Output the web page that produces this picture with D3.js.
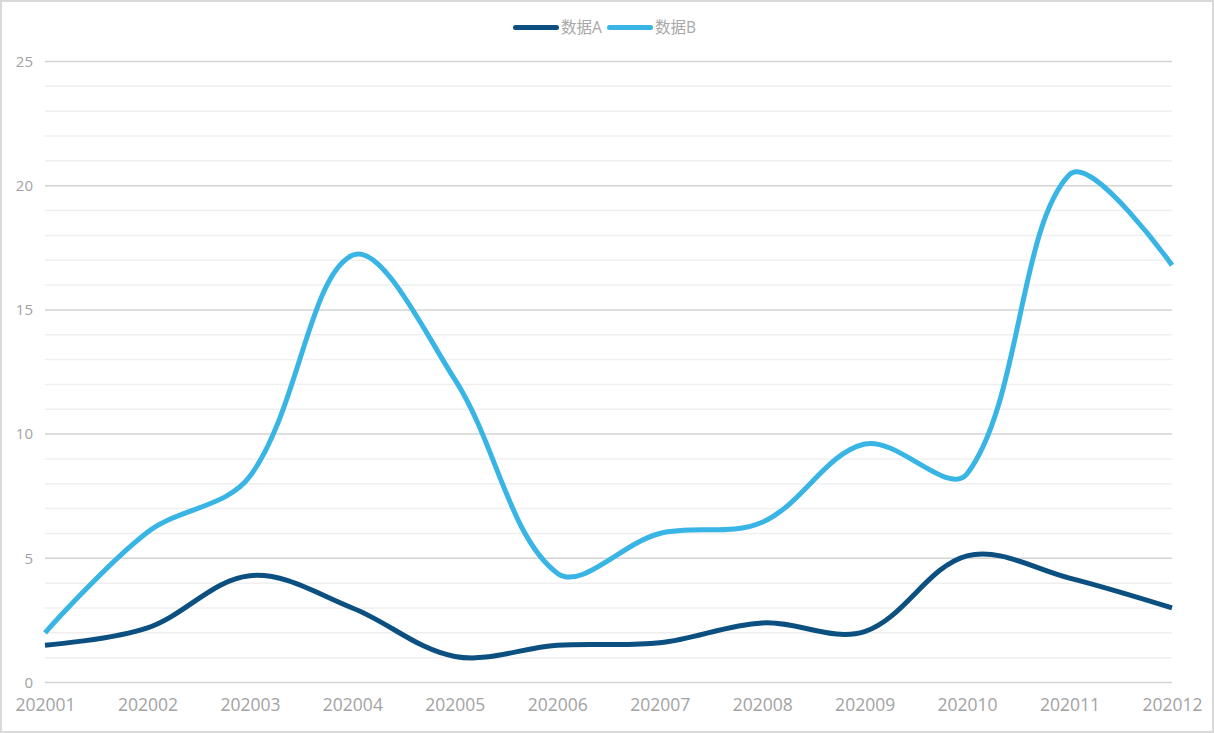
<!DOCTYPE html>
<html>
<head>
<meta charset="utf-8">
<script src="https://cdn.jsdelivr.net/npm/d3@7/dist/d3.min.js"></script>
<style>
  html, body { margin: 0; padding: 0; background: #fff; }
  svg { display: block; }
</style>
</head>
<body>
<svg id="chart" width="1214" height="733"></svg>
<script>
const categories = ["202001","202002","202003","202004","202005","202006","202007","202008","202009","202010","202011","202012"];
const seriesA = [1.5, 2.2, 4.3, 3.0, 1.05, 1.5, 1.6, 2.4, 2.05, 5.1, 4.2, 3.0];
const seriesB = [2.0, 6.05, 8.3, 17.2, 12.2, 4.4, 6.0, 6.45, 9.6, 8.4, 20.45, 16.8];
const seriesNames = ["数据A", "数据B"];
const seriesColors = ["#0b5081", "#38b4e5"];
const yTicks = [0, 5, 10, 15, 20, 25];
const yMinor = d3.range(0, 26, 1);

const svg = d3.select("#chart");
const W = 1214, H = 733;

// outer border
svg.append("rect").attr("x", 1).attr("y", 1).attr("width", W - 2).attr("height", H - 2)
  .attr("fill", "#fff").attr("stroke", "#d9d9d9").attr("stroke-width", 2);

const x = d3.scalePoint().domain(categories).range([45, 1172]);
const y = d3.scaleLinear().domain([0, 25]).range([682.5, 61.5]);

// minor grid
svg.append("g").selectAll("line").data(yMinor.filter(v => v % 5 !== 0)).join("line")
  .attr("x1", 45).attr("x2", 1172)
  .attr("y1", d => y(d)).attr("y2", d => y(d))
  .attr("stroke", "#efefef").attr("stroke-width", 1.5);

// major grid
svg.append("g").selectAll("line").data(yTicks).join("line")
  .attr("x1", 45).attr("x2", 1172)
  .attr("y1", d => y(d)).attr("y2", d => y(d))
  .attr("stroke", "#d3d3d3").attr("stroke-width", 1.5);

// y labels
const yAxis = d3.axisLeft(y).tickValues(yTicks).tickSize(0).tickPadding(12);
const gy = svg.append("g").attr("transform", "translate(45,0)").call(yAxis);
gy.select(".domain").remove();
gy.selectAll("text").attr("fill", "#a3a3a3").attr("font-size", 15)
  .attr("font-family", "'Open Sans', 'Noto Sans', sans-serif");

// x labels
const xAxis = d3.axisBottom(x).tickSize(0).tickPadding(0);
const gx = svg.append("g").attr("transform", "translate(0,682.5)").call(xAxis);
gx.select(".domain").remove();
gx.selectAll("text").attr("fill", "#a3a3a3").attr("font-size", 17.5)
  .attr("font-family", "'Open Sans', 'Noto Sans', sans-serif")
  .attr("dy", null).attr("y", 28.5);

// ECharts-like smooth curve
function echartsSmooth(smooth) {
  return function(context) {
    let pts = [];
    return {
      areaStart() {}, areaEnd() {},
      lineStart() { pts = []; },
      point(px, py) { pts.push([+px, +py]); },
      lineEnd() {
        const n = pts.length;
        if (!n) return;
        context.moveTo(pts[0][0], pts[0][1]);
        let cp0 = pts[0];
        for (let k = 1; k < n; k++) {
          const [px, py] = pts[k - 1];
          const [cx, cy] = pts[k];
          let nextCp, cp1;
          if (k + 1 < n) {
            const [nx, ny] = pts[k + 1];
            const vx = nx - px, vy = ny - py;
            const l0 = Math.hypot(cx - px, cy - py);
            const l1 = Math.hypot(nx - cx, ny - cy);
            const r = l1 / (l0 + l1);
            nextCp = [cx + vx * smooth * r, cy + vy * smooth * r];
            cp1 = [cx - vx * smooth * (1 - r), cy - vy * smooth * (1 - r)];
          } else {
            nextCp = [cx, cy];
            cp1 = [cx, cy];
          }
          context.bezierCurveTo(cp0[0], cp0[1], cp1[0], cp1[1], cx, cy);
          cp0 = nextCp;
        }
      }
    };
  };
}

const line = d3.line()
  .x((d, i) => x(categories[i]))
  .y(d => y(d))
  .curve(echartsSmooth(0.35));

[seriesA, seriesB].forEach((s, i) => {
  svg.append("path").datum(s)
    .attr("d", line)
    .attr("fill", "none")
    .attr("stroke", seriesColors[i])
    .attr("stroke-width", 5)
    .attr("stroke-linejoin", "round")
    .attr("stroke-linecap", "butt");
});

// legend
const legendX = [513, 607];
const leg = svg.append("g");
seriesNames.forEach((name, i) => {
  const g = leg.append("g").attr("transform", `translate(${legendX[i]},27.5)`);
  g.append("line").attr("x1", 2.5).attr("x2", 43.5).attr("y1", 0).attr("y2", 0)
    .attr("stroke", seriesColors[i]).attr("stroke-width", 5).attr("stroke-linecap", "round");
  g.append("text").attr("x", 48).attr("y", 0).attr("dy", "0.35em")
    .attr("fill", "#a8a8a8").attr("font-size", 15.5)
    .attr("font-family", "'Open Sans', 'Noto Sans CJK SC', sans-serif")
    .text(name);
});
</script>
</body>
</html>
